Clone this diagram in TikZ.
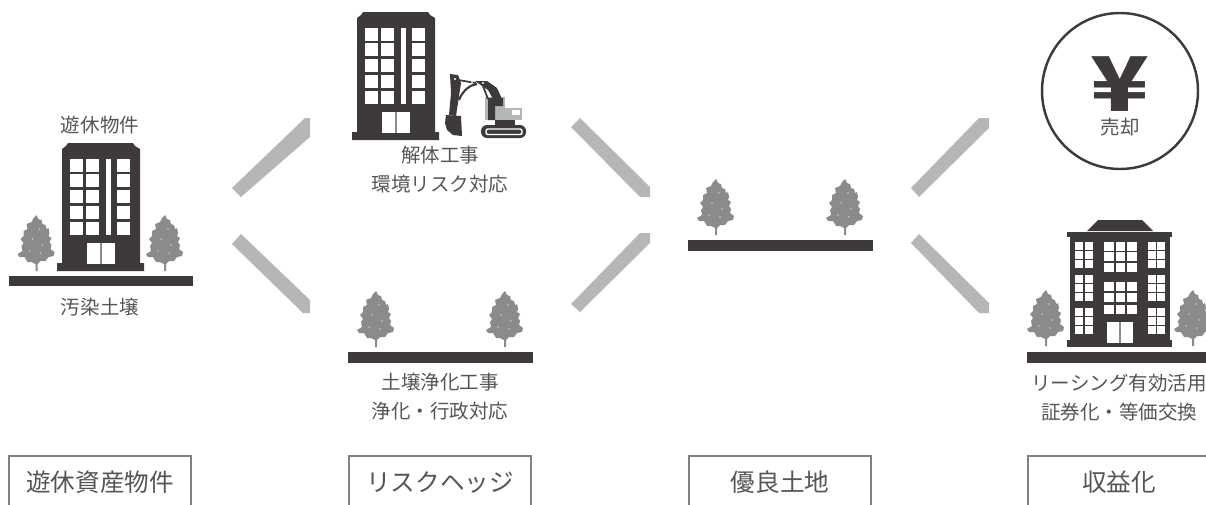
\documentclass[tikz,border=0pt]{standalone}
\usepackage{fontspec}
\setmainfont{Noto Sans CJK JP}
\usetikzlibrary{positioning}
\definecolor{darkInk}{HTML}{3E3A3B}
\definecolor{barGray}{HTML}{B5B6B6}
\definecolor{treeGray}{HTML}{8B8B8D}
\definecolor{textGray}{HTML}{555555}
\newcommand{\TreeAt}[2]{
	\begin{scope}[shift = {(#1,#2)}]
	\fill[treeGray] (0,0) -- (2,4) -- (5,5) -- (6,9) -- (9,10) -- (10,14) -- (12,13) -- (13,18) -- (12,21) -- (15,23) -- (13,27) -- (15,30) -- (14,34) -- (18,37) -- (17,41) -- (12,42) -- (9,46) -- (4,46) -- (1,49) -- (1,56) -- (-1,56) -- (-1,49) -- (-5,47) -- (-9,47) -- (-12,42) -- (-17,42) -- (-19,39) -- (-14,36) -- (-15,31) -- (-13,28) -- (-16,24) -- (-13,21) -- (-13,16) -- (-9,14) -- (-10,9) -- (-5,7) -- (-3,3) -- cycle;
	\foreach \a/\b in {3/14, -4/24, 6/30, -7/36, 4/38} {
		\fill[white!55!treeGray] (\a,\b) circle (0.8);
	}
	\end{scope}
}
\newcommand{\OfficeAt}[2]{
	\begin{scope}[shift = {(#1,#2)}]
	\fill[darkInk] (6,0) -- (71,0) -- (73,3) -- (78,6) -- (78,120) -- (82,120) -- (82,128) -- (-5,128) -- (-5,120) -- (0,120) -- (0,6) -- (4,3) -- cycle;
	\foreach \b in {16,31,47,63,79} {
		\fill[white] (8,\b) rectangle ++(13,12.5);
		\fill[white] (24,\b) rectangle ++(13,12.5);
		\fill[white] (55,\b) rectangle ++(13,12.5);
	}
	\fill[white] (44,16) rectangle (49,91.5);
	\fill[white] (25,100) rectangle (53,121);
	\draw[treeGray, line width = 0.6pt] (39,100) -- (39,121);
	\end{scope}
}
\begin{document}
\begin{tikzpicture}[x = 0.02cm, y = -0.02cm]
	\tikzstyle{barStyle} = [fill = barGray]
	\tikzstyle{groundStyle} = [fill = darkInk]
	\tikzstyle{labelStyle} = [text = textGray, align = center, inner sep = 0pt, font = \fontsize{11.1}{16.4}\selectfont]
	\tikzstyle{stageStyle} = [draw = black!50, line width = 0.8pt, minimum width = 182*0.02cm, minimum height = 52*0.02cm, inner sep = 0pt, text = textGray, font = \fontsize{14}{17}\selectfont]
	\useasboundingbox (0,0) rectangle (1206,504);
	\clip (0,0) rectangle (1206,504);
	% bars between the stages
	\fill[barStyle] (232,188) -- (305,118) -- (310,118) -- (310,137) -- (241,197) -- cycle;
	\fill[barStyle] (241,234) -- (310,300) -- (310,313) -- (303,313) -- (232,244) -- cycle;
	\fill[barStyle] (580,118) -- (650,187) -- (650,197) -- (640,197) -- (571,127) -- cycle;
	\fill[barStyle] (571,304) -- (640,233) -- (650,233) -- (650,243) -- (580,312) -- cycle;
	\fill[barStyle] (911,188) -- (979,118) -- (989,118) -- (989,128) -- (919,197) -- cycle;
	\fill[barStyle] (911,243) -- (919,234) -- (989,303) -- (989,313) -- (979,313) -- cycle;
	% ground and trees
	\fill[groundStyle] (9,276) rectangle (193,286);
	\fill[groundStyle] (348,352) rectangle (533,363);
	\fill[groundStyle] (688,240) rectangle (873,251);
	\fill[groundStyle] (1027,352) rectangle (1206,363);
	\TreeAt{36.5}{215}
	\TreeAt{165}{215}
	\TreeAt{376}{291}
	\TreeAt{505}{291}
	\TreeAt{716}{179}
	\TreeAt{845}{179}
	\TreeAt{1046}{290}
	\TreeAt{1193}{290}
	% idle and demolished buildings
	\OfficeAt{62}{143}
	\OfficeAt{357}{12}
	% excavator
	\fill[barGray] (485,97) rectangle (505,110);
	\fill[barGray] (485,108) rectangle (522,120);
	\fill[white] (512,110) rectangle (520,115);
	\fill[darkInk] (488,98) -- (503,98) -- (503,106) -- (495,106) -- (495,120) -- (488,120) -- cycle;
	\fill[darkInk] (495,120) rectangle (515,125);
	\fill[darkInk, rounded corners = 6*0.02cm] (481,125) rectangle (526,138);
	\draw[white, line width = 0.8pt, rounded corners = 2*0.02cm] (486,129) rectangle (522,134.5);
	\fill[darkInk] (475,81) -- (487,81) -- (497,88) -- (502,99) -- (493,99) -- (488,90) -- (482,86) -- cycle;
	\fill[darkInk] (450,74) -- (458,75) -- (461,83) -- (456,116) -- (449,115) -- (451,93) -- cycle;
	\fill[darkInk] (446,115) -- (461,116) -- (462,136) -- (453,135) -- (447,130) -- (445,123) -- cycle;
	\draw[darkInk, line width = 1.2pt] (459,100) .. controls (463,90) and (470,85) .. (477,84);
	\draw[darkInk, line width = 1pt] (458,80) -- (476,83);
	\draw[darkInk, line width = 1pt] (483,86) -- (488,99);
	\foreach \a/\b in {455/79, 472/82, 483/83} {
		\fill[white] (\a,\b) circle (1.2);
	}
	% rental building
	\fill[darkInk] (1098,220) -- (1142,220) -- (1153,231) -- (1087,231) -- cycle;
	\fill[darkInk] (1067,232) rectangle (1172,237);
	\fill[darkInk] (1070,237) rectangle (1170,341);
	\fill[darkInk] (1067,340) rectangle (1172,347);
	\foreach \b in {242,251,260,275,284,293,308,317,326} {
		\fill[white] (1075,\b) rectangle ++(8,8);
		\fill[white] (1084.5,\b) rectangle ++(8,8);
		\fill[white] (1148,\b) rectangle ++(8,8);
		\fill[white] (1157,\b) rectangle ++(8,8);
	}
	\foreach \b in {242,252,263,282,293,305} {
		\fill[white] (1104,\b) rectangle ++(9.5,9);
		\fill[white] (1115.5,\b) rectangle ++(9.5,9);
		\fill[white] (1127,\b) rectangle ++(9.5,9);
	}
	\fill[white] (1107,322) rectangle (1133,343);
	\draw[treeGray, line width = 0.6pt] (1120,322) -- (1120,343);
	% sale circle
	\node[draw = darkInk, line width = 1.4pt, circle, minimum size = 156*0.02cm, inner sep = 0pt] (saleCircle) at (1120,91) {};
	\node[anchor = base, inner sep = 0pt, text = darkInk, font = \fontsize{43}{43}\selectfont\bfseries] (yenMark) at (1120,111) {\smash{\scalebox{1.28}[1]{¥}}};
	\node[labelStyle] (saleLabel) at (1120,127) {売却};
	% labels
	\node[labelStyle] (idleTop) at (100,125) {遊休物件};
	\node[labelStyle] (idleBottom) at (100,307) {汚染土壌};
	\node[labelStyle] (demolishLabel) at (440,169.5) {解体工事\\環境リスク対応};
	\node[labelStyle] (cleanLabel) at (440,396.5) {土壌浄化工事\\浄化・行政対応};
	\node[labelStyle] (rentLabel) at (1119,398) {リーシング有効活用\\証券化・等価交換};
	% stage boxes
	\node[stageStyle] (idleStage) at (100,482) {遊休資産物件};
	\node[stageStyle] (riskStage) at (440,482) {リスクヘッジ};
	\node[stageStyle] (landStage) at (780,482) {優良土地};
	\node[stageStyle] (incomeStage) at (1119,482) {収益化};
\end{tikzpicture}
\end{document}
